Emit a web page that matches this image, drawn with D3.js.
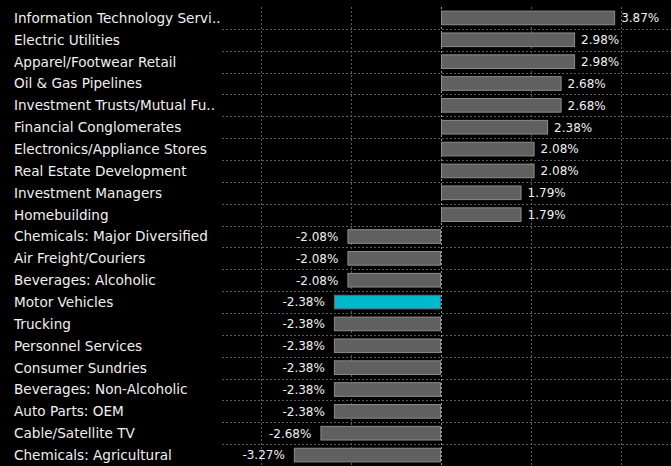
<!DOCTYPE html>
<html><head><meta charset="utf-8">
<script src="https://cdn.jsdelivr.net/npm/d3@7"></script>
<style>
html,body{margin:0;padding:0;background:#000;}
svg{display:block;}
</style></head>
<body>
<script>
const categories = ["Information Technology Servi..","Electric Utilities","Apparel/Footwear Retail","Oil & Gas Pipelines","Investment Trusts/Mutual Fu..","Financial Conglomerates","Electronics/Appliance Stores","Real Estate Development","Investment Managers","Homebuilding","Chemicals: Major Diversified","Air Freight/Couriers","Beverages: Alcoholic","Motor Vehicles","Trucking","Personnel Services","Consumer Sundries","Beverages: Non-Alcoholic","Auto Parts: OEM","Cable/Satellite TV","Chemicals: Agricultural"];
const values = [3.87,2.98,2.98,2.68,2.68,2.38,2.08,2.08,1.79,1.79,-2.08,-2.08,-2.08,-2.38,-2.38,-2.38,-2.38,-2.38,-2.38,-2.68,-3.27];
const highlight = ["Motor Vehicles"];
const gridTicks = [-4,-2,0,2,4];

const W = 671, H = 466;
const svg = d3.select("body").append("svg").attr("width", W).attr("height", H).style("background","#000");
const font = "'DejaVu Sans', sans-serif";

const x = d3.scaleLinear().domain([-4.8667, 5.1111]).range([222, 671]);
const y = d3.scaleBand().domain(categories).range([7, 466]).paddingInner(0.33).paddingOuter(0.165);
const step = y.step();

// horizontal grid lines (between rows)
svg.append("g").selectAll("line").data(categories.slice(1)).join("line")
  .attr("x1", 222).attr("x2", W)
  .attr("y1", d => Math.round(y(d) - y.paddingInner()*step/2) + 0.5)
  .attr("y2", d => Math.round(y(d) - y.paddingInner()*step/2) + 0.5)
  .attr("stroke", "#5a5a5a").attr("stroke-width", 1).attr("stroke-dasharray", "2,2");

// vertical grid lines
svg.append("g").selectAll("line").data(gridTicks).join("line")
  .attr("x1", d => Math.round(x(d)) + 0.5).attr("x2", d => Math.round(x(d)) + 0.5)
  .attr("y1", 7).attr("y2", H)
  .attr("stroke", d => d === 0 ? "#9a9a9a" : "#5a5a5a")
  .attr("stroke-width", 1).attr("stroke-dasharray", "2,2");

// bars
svg.append("g").selectAll("rect").data(categories).join("rect")
  .attr("x", (d,i) => Math.min(x(0), x(values[i])) + 0.5)
  .attr("y", d => y(d) + 0.5)
  .attr("width", (d,i) => Math.abs(x(values[i]) - x(0)) - 1)
  .attr("height", y.bandwidth() - 1)
  .attr("fill", d => highlight.includes(d) ? "#00b9cc" : "#606060")
  .attr("stroke", d => highlight.includes(d) ? "#6a6a6a" : "#8c8c8c")
  .attr("stroke-width", 1);

// category labels
svg.append("g").selectAll("text").data(categories).join("text")
  .attr("x", 14).attr("y", d => y(d) + y.bandwidth()/2)
  .attr("dy", "0.36em")
  .attr("fill", "#f0f0f0").attr("font-family", font).attr("font-size", 13.6)
  .text(d => d);

// value labels
svg.append("g").selectAll("text").data(categories).join("text")
  .attr("x", (d,i) => values[i] >= 0 ? x(values[i]) + 6 : x(values[i]) - 9)
  .attr("y", d => y(d) + y.bandwidth()/2)
  .attr("dy", "0.36em")
  .attr("text-anchor", (d,i) => values[i] >= 0 ? "start" : "end")
  .attr("fill", "#f0f0f0").attr("font-family", font).attr("font-size", 12)
  .text((d,i) => values[i].toFixed(2) + "%");
</script>
</body></html>
